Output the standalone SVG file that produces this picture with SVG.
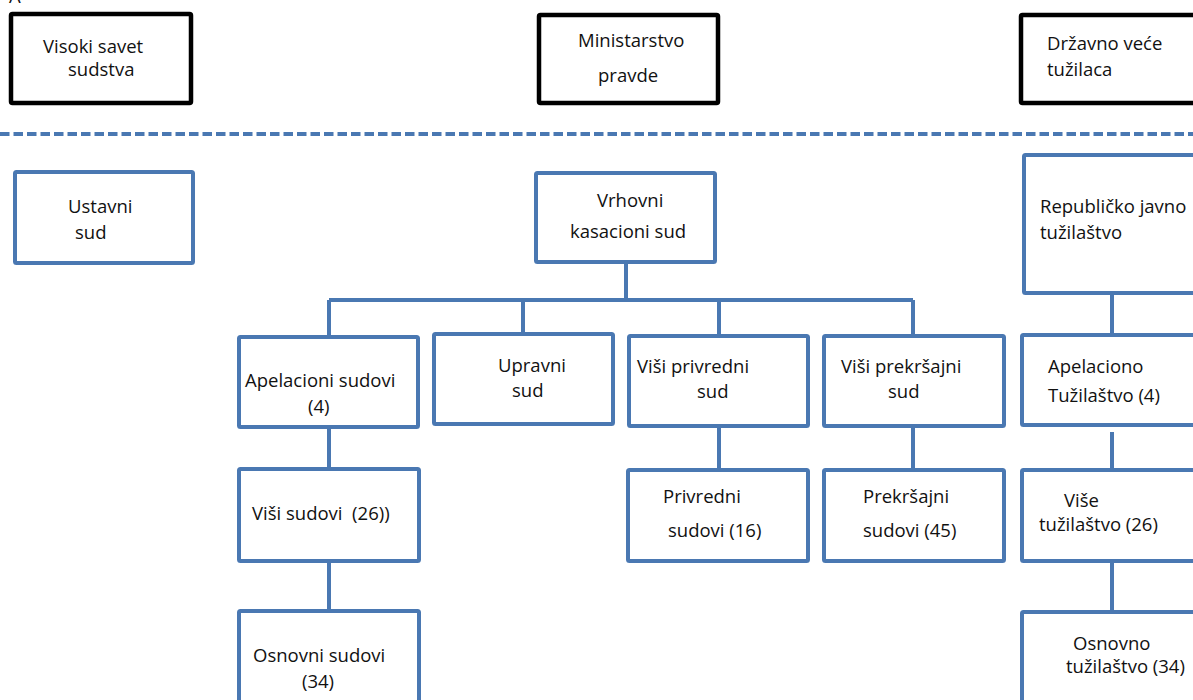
<svg xmlns="http://www.w3.org/2000/svg" width="1193" height="700" viewBox="0 0 1193 700">
<style>
.bk{fill:#fff;stroke:#000;stroke-width:4.5;rx:1.5}
.bl{fill:#fff;stroke:#4a78b2;stroke-width:4;rx:1.5}
.cn{fill:none;stroke:#4a78b2;stroke-width:4}
text{font-family:"Open Sans","Noto Sans","Liberation Sans",sans-serif;font-size:18.5px;fill:#111}
</style>
<rect width="1193" height="700" fill="#fff"/>
<text x="9" y="3">A</text>
<line x1="0" y1="134" x2="1193" y2="134" stroke="#4a78b2" stroke-width="4" stroke-dasharray="9.5 4"/>
<g id="connectors">
<path class="cn" d="M626 262V300M329 300H913M329 300V337M523 300V334M719 300V336M913 300V336"/>
<path class="cn" d="M329 427V469M329 561V611M719 426V470M913 426V470"/>
<path class="cn" d="M1112 293V335M1112 432V470M1112 561V612"/>
</g>
<g id="visoki"><rect class="bk" x="11" y="14" width="180" height="89"/><text x="43" y="53">Visoki savet</text><text x="68" y="76">sudstva</text></g>
<g id="ministarstvo"><rect class="bk" x="539" y="15" width="179" height="88"/><text x="578" y="47">Ministarstvo</text><text x="598" y="82">pravde</text></g>
<g id="drzavno"><rect class="bk" x="1021" y="15" width="200" height="88"/><text x="1047" y="50">Državno veće</text><text x="1047" y="76">tužilaca</text></g>
<g id="ustavni"><rect class="bl" x="15" y="172" width="178" height="91"/><text x="68" y="213">Ustavni</text><text x="75" y="239">sud</text></g>
<g id="vrhovni"><rect class="bl" x="536" y="173" width="179" height="89"/><text x="597" y="207">Vrhovni</text><text x="570" y="238">kasacioni sud</text></g>
<g id="republicko"><rect class="bl" x="1024" y="155" width="200" height="138"/><text x="1040" y="213">Republičko javno</text><text x="1040" y="239">tužilaštvo</text></g>
<g id="apelacioni"><rect class="bl" x="239" y="337" width="179" height="90"/><text x="245" y="387">Apelacioni sudovi</text><text x="308" y="413">(4)</text></g>
<g id="upravni"><rect class="bl" x="434" y="334" width="179" height="90"/><text x="498" y="372">Upravni</text><text x="512" y="397">sud</text></g>
<g id="visi-privredni"><rect class="bl" x="629" y="336" width="179" height="90"/><text x="637" y="373">Viši privredni</text><text x="697" y="398">sud</text></g>
<g id="visi-prekrsajni"><rect class="bl" x="824" y="336" width="180" height="90"/><text x="841" y="373">Viši prekršajni</text><text x="888" y="398">sud</text></g>
<g id="apelaciono"><rect class="bl" x="1022" y="335" width="200" height="90"/><text x="1048" y="373">Apelaciono</text><text x="1048" y="402">Tužilaštvo (4)</text></g>
<g id="visi-sudovi"><rect class="bl" x="239" y="469" width="180" height="92"/><text x="252" y="520" xml:space="preserve">Viši sudovi  (26))</text></g>
<g id="privredni"><rect class="bl" x="628" y="470" width="180" height="91"/><text x="663" y="503">Privredni</text><text x="668" y="537">sudovi (16)</text></g>
<g id="prekrsajni"><rect class="bl" x="824" y="470" width="180" height="91"/><text x="863" y="503">Prekršajni</text><text x="863" y="537">sudovi (45)</text></g>
<g id="vise-tuzilastvo"><rect class="bl" x="1022" y="470" width="200" height="91"/><text x="1064" y="507">Više</text><text x="1039" y="531">tužilaštvo (26)</text></g>
<g id="osnovni"><rect class="bl" x="239" y="611" width="180" height="120"/><text x="253" y="662">Osnovni sudovi</text><text x="302" y="688">(34)</text></g>
<g id="osnovno"><rect class="bl" x="1022" y="612" width="200" height="120"/><text x="1073" y="650">Osnovno</text><text x="1066" y="673">tužilaštvo (34)</text></g>
</svg>
